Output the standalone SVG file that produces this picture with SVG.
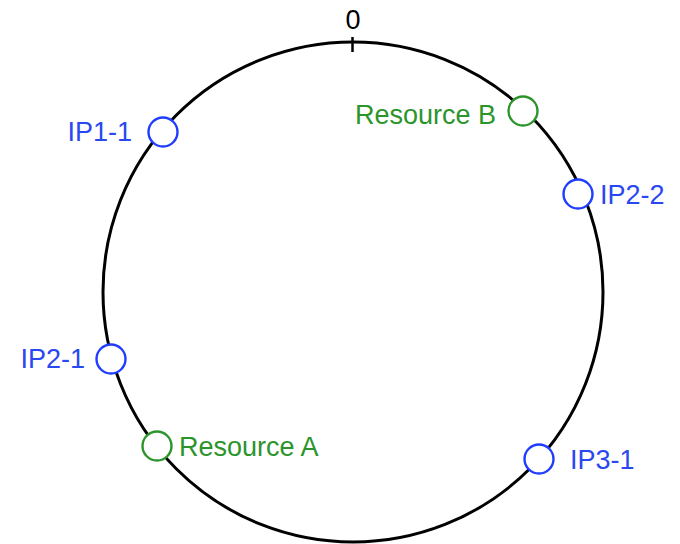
<svg xmlns="http://www.w3.org/2000/svg" width="680" height="544" viewBox="0 0 680 544">
<style>
text{font-family:"Liberation Sans",Arial,sans-serif;font-size:27px}
.ip circle{fill:#fff;stroke:#1f3cff;stroke-width:2.4}
.ip text{fill:#2a48f0}
.res circle{fill:#fff;stroke:#2b942b;stroke-width:2.4}
.res text{fill:#2b942b}
</style>
<rect width="680" height="544" fill="#fff"/>
<g id="connectors">
<circle id="ring" cx="353" cy="292" r="250" fill="none" stroke="#000" stroke-width="3"/>
<line x1="352.5" y1="37" x2="352.5" y2="52" stroke="#000" stroke-width="2.5"/>
</g>
<g id="zero"><text x="353" y="29" text-anchor="middle" fill="#000">0</text></g>
<g id="ip1-1" class="ip"><circle cx="163" cy="132" r="14.5"/><text x="132" y="141" text-anchor="end">IP1-1</text></g>
<g id="resource-b" class="res"><circle cx="523" cy="111" r="14.5"/><text x="355" y="124">Resource B</text></g>
<g id="ip2-2" class="ip"><circle cx="578" cy="194" r="14.5"/><text x="600" y="204">IP2-2</text></g>
<g id="ip2-1" class="ip"><circle cx="111" cy="359" r="14.5"/><text x="85" y="368" text-anchor="end">IP2-1</text></g>
<g id="resource-a" class="res"><circle cx="157" cy="446" r="14.5"/><text x="179" y="456">Resource A</text></g>
<g id="ip3-1" class="ip"><circle cx="539" cy="459" r="14.5"/><text x="570" y="469">IP3-1</text></g>
</svg>
